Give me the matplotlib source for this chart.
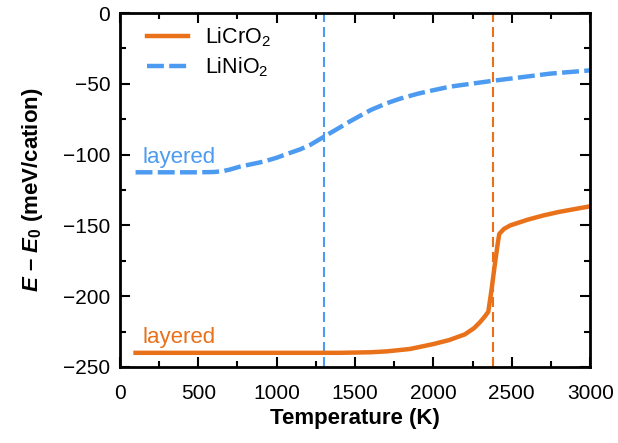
import matplotlib.pyplot as plt

plt.rcParams['font.family'] = 'Liberation Sans'
plt.rcParams['mathtext.fontset'] = 'custom'
plt.rcParams['mathtext.rm'] = 'Liberation Sans'
plt.rcParams['mathtext.it'] = 'Liberation Sans:italic'
plt.rcParams['mathtext.bf'] = 'Liberation Sans:bold'
plt.rcParams['mathtext.bfit'] = 'Liberation Sans:bold:italic'

orange = '#e8711a'
blue = '#4d9bf0'

# LiCrO2 energy vs temperature
T_cr = [100, 600, 1100, 1400, 1600, 1700, 1850, 2000, 2100, 2200, 2260, 2300,
        2330, 2350, 2370, 2390, 2410, 2420, 2450, 2490, 2600, 2700, 2800, 2900, 3000]
E_cr = [-240, -240, -240, -240, -239.6, -239, -237.3, -233.8, -231, -227, -222.5, -218,
        -214, -211, -196, -179, -163, -156, -152.5, -150, -146, -143, -140.5, -138.5, -136.5]

# LiNiO2 energy vs temperature
T_ni = [100, 500, 600, 660, 700, 766, 850, 915, 1000, 1064, 1150, 1213, 1300, 1400,
        1468, 1550, 1600, 1700, 1787, 1900, 2000, 2106, 2250, 2383, 2550, 2745, 2900, 3000]
E_ni = [-112.5, -112.5, -112.3, -111.6, -110.6, -108.5, -106.5, -105, -102.2, -99.6,
        -96.3, -93.2, -87.5, -81, -76.5, -71.5, -68.5, -63.8, -60.5, -57, -54.5, -52,
        -49.8, -47.8, -45.5, -42.8, -41.4, -40.5]

# transition temperatures
Tc_cr = 2380
Tc_ni = 1300

fig = plt.figure(figsize=(6.18, 4.43), dpi=100)
ax = fig.add_axes([0.194, 0.1716, 0.761, 0.799])

ax.axvline(Tc_ni, color=blue, lw=1.5, dashes=(4.8, 2.4))
ax.axvline(Tc_cr, color=orange, lw=1.5, dashes=(4.8, 2.4))
ax.plot(T_cr, E_cr, color=orange, lw=3.2, label='LiCrO$_2$')
ax.plot(T_ni, E_ni, color=blue, lw=3.2, dashes=(3.8, 1.2), label='LiNiO$_2$')

ax.text(145, -106, 'layered', color=blue, fontsize=16)
ax.text(145, -233, 'layered', color=orange, fontsize=16)

ax.set_xlim(0, 3000)
ax.set_ylim(-250, 0)
ax.set_xticks(range(0, 3001, 500))
ax.set_xticks(range(0, 3001, 250), minor=True)
ax.set_yticks(range(-250, 1, 50))
ax.set_yticks(range(-250, 1, 25), minor=True)
ax.set_yticklabels(['\u2212250', '\u2212200', '\u2212150', '\u2212100', '\u221250', '0'])
ax.tick_params(which='both', direction='in', top=True, right=True, labelsize=15, width=1.5)
ax.tick_params(which='major', length=7)
ax.tick_params(which='minor', length=4)
ax.tick_params(axis='x', which='major', pad=12)
ax.tick_params(axis='y', which='major', pad=7)
for s in ax.spines.values():
    s.set_linewidth(2)

ax.set_xlabel('Temperature (K)', fontsize=16, fontweight='bold', labelpad=4)
ax.set_ylabel('$\\mathbfit{E}$ \u2013 $\\mathbfit{E}_\\mathbf{0}$ (meV/cation)',
              fontsize=16, fontweight='bold', labelpad=13)

ax.legend(loc='upper left', frameon=False, fontsize=15.5, handlelength=1.9,
          borderaxespad=0, labelspacing=0.3, handletextpad=0.8,
          bbox_to_anchor=(0.04, 0.99))

fig.savefig('out.png', dpi=100)
